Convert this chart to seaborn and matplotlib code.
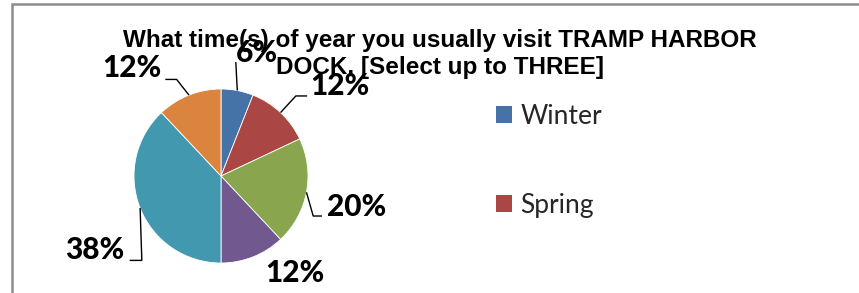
import matplotlib
matplotlib.use('Agg')
import matplotlib.pyplot as plt
import seaborn as sns
import numpy as np
from matplotlib.patches import Rectangle

sns.set_theme(style='white')

# Data
shares = [6, 12, 20, 12, 38, 12]
pct_labels = ['6%', '12%', '20%', '12%', '38%', '12%']
legend_labels = ['Winter', 'Spring']
slice_colors = ['#4572A7', '#AA4643', '#89A54E', '#71588F', '#4198AF', '#DB843D']

title = 'What time(s) of year you usually visit TRAMP HARBOR\nDOCK. [Select up to THREE]'

# label placement (data units, pie radius = 1): text centre, elbow, end of leader
label_layout = [
    ((0.41, 1.41), (0.17, 1.31), None),
    ((1.37, 1.03), (0.86, 0.92), (0.99, 0.92)),
    ((1.56, -0.36), (1.06, -0.46), (1.16, -0.46)),
    ((0.85, -1.11), None, None),
    ((-1.45, -0.85), (-0.91, -0.97), (-1.05, -0.97)),
    ((-1.02, 1.24), (-0.51, 1.11), (-0.64, 1.11)),
]

W, H = 859, 293
R = 87.0           # pie radius in px
CX, CY = 221, 176  # pie centre in px

fig = plt.figure(figsize=(W / 100, H / 100), dpi=100)
fig.patch.set_facecolor('white')
ax = fig.add_axes([0, 0, 1, 1])

wedges, _ = ax.pie(shares, colors=slice_colors, startangle=90, counterclock=False,
                   radius=1, center=(0, 0), frame=True,
                   wedgeprops=dict(edgecolor='white', linewidth=0.6))
ax.set_xlim(-CX / R, (W - CX) / R)
ax.set_ylim((CY - H) / R, CY / R)
ax.set_aspect('auto')
ax.axis('off')

lbl_font = ['Lato', 'DejaVu Sans']
for w, txt, (pos, elbow, end) in zip(wedges, pct_labels, label_layout):
    mid = np.deg2rad((w.theta1 + w.theta2) / 2)
    if elbow is not None:
        xs = [np.cos(mid), elbow[0]]
        ys = [np.sin(mid), elbow[1]]
        if end is not None:
            xs.append(end[0])
            ys.append(end[1])
        ax.plot(xs, ys, color='black', lw=1.0, solid_capstyle='butt')
    ax.text(pos[0], pos[1], txt, ha='center', va='center', fontsize=21.5,
            fontweight='black', family=lbl_font, color='black')

# title
fig.text(440 / W, 1 - 54 / H, title, ha='center', va='center', fontsize=17.5,
         fontweight='bold', family=['Liberation Sans', 'DejaVu Sans'],
         linespacing=1.25, color='black')

# legend
leg = ax.legend(wedges[:2], legend_labels, loc='upper left',
                bbox_to_anchor=(496 / W, 1 - 104 / H), bbox_transform=fig.transFigure,
                frameon=False, borderpad=0, borderaxespad=0,
                handlelength=0.62, handleheight=0.62, handletextpad=0.3,
                labelspacing=2.42, prop={'family': 'Lato', 'size': 19})
for h in leg.legend_handles:
    h.set_edgecolor('none')

# chart border (cropped on right and bottom)
fig.patches.append(Rectangle((11.5 / W, -0.1), 2.0, 1.1 - 4.5 / H,
                             transform=fig.transFigure, fill=False,
                             edgecolor='#8C8C8C', linewidth=1.8))

plt.savefig('out.png', dpi=100)
